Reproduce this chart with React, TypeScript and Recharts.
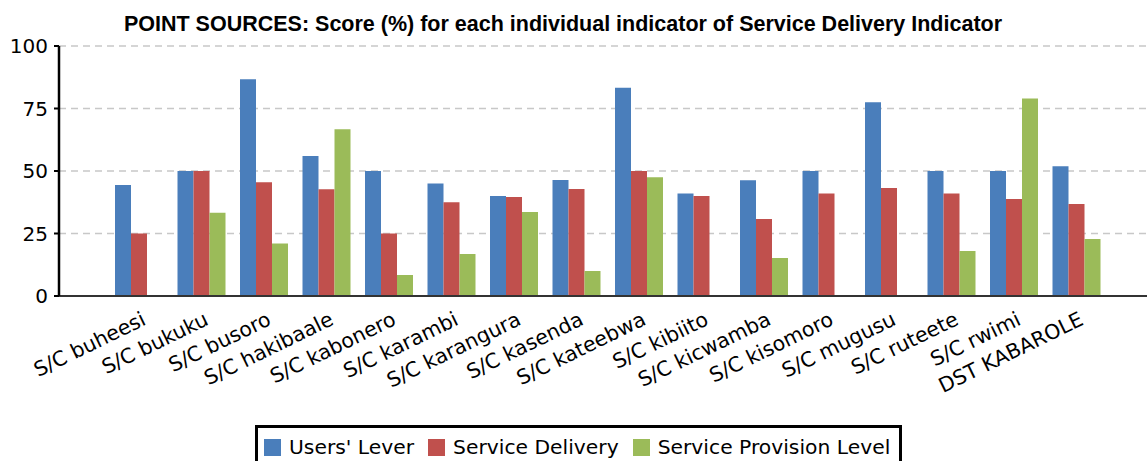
import React from 'react';
import { BarChart, Bar, XAxis, YAxis, CartesianGrid } from 'recharts';

const places = [
    'S/C buheesi', 'S/C bukuku', 'S/C busoro', 'S/C hakibaale', 'S/C kabonero', 'S/C karambi',
    'S/C karangura', 'S/C kasenda', 'S/C kateebwa', 'S/C kibiito', 'S/C kicwamba', 'S/C kisomoro',
    'S/C mugusu', 'S/C ruteete', 'S/C rwimi', 'DST KABAROLE'
];
const usersLever = [44.4, 50, 86.7, 56, 50, 45, 40, 46.4, 83.3, 41, 46.3, 50, 77.5, 50, 50, 51.9];
const serviceDelivery = [25, 50, 45.5, 42.7, 25, 37.5, 39.6, 42.8, 50, 40, 30.8, 41, 43.2, 41, 38.8, 36.8];
const provisionLevel = [0, 33.3, 21, 66.7, 8.4, 16.8, 33.6, 10, 47.5, 0, 15.2, 0, 0, 18, 79, 22.8];
const yTicks = [0, 25, 50, 75, 100];

const series = [
    { key: 'users', name: "Users' Lever", color: '#4a7ebb' },
    { key: 'delivery', name: 'Service Delivery', color: '#c0504d' },
    { key: 'provision', name: 'Service Provision Level', color: '#9bbb59' },
];

const data = places.map((name, i) => ({
    name,
    users: usersLever[i],
    delivery: serviceDelivery[i],
    provision: provisionLevel[i],
}));

const FONT = '"DejaVu Sans", sans-serif';

const AngledTick = (props: any) => {
    const { x, y, payload } = props;
    return (
        <g transform={`translate(${x + 8},${y + 20})`}>
            <text x={0} y={0} textAnchor="end" fontSize={20.5} fontFamily={FONT} fill="#000" transform="rotate(-26)">
                {payload.value}
            </text>
        </g>
    );
};

export default function App() {
    return (
        <div style={{ position: 'absolute', left: 0, top: 0, width: 1147, height: 461, overflow: 'hidden', background: '#fff' }}>
            <div style={{
                position: 'absolute', top: 12, left: 0, width: 1126, textAlign: 'center', whiteSpace: 'nowrap',
                fontFamily: '"Liberation Sans", Arial, sans-serif', fontWeight: 'bold', fontSize: 21.5, color: '#000'
            }}>
                POINT SOURCES: Score (%) for each individual indicator of Service Delivery Indicator
            </div>

            <BarChart
                width={1147}
                height={461}
                data={data}
                margin={{ top: 46, right: 0, bottom: 0, left: 0 }}
                barCategoryGap={7}
                barGap={0}
            >
                <CartesianGrid vertical={false} stroke="#c8c8c8" strokeDasharray="7 5" strokeWidth={1.5} />
                <XAxis
                    dataKey="name"
                    interval={0}
                    height={165}
                    padding={{ left: 49, right: 39 }}
                    tick={<AngledTick />}
                    tickLine={false}
                    axisLine={{ stroke: '#333', strokeWidth: 2 }}
                />
                <YAxis
                    domain={[0, 100]}
                    ticks={yTicks}
                    width={59}
                    tickSize={5}
                    tickMargin={6}
                    axisLine={{ stroke: '#000', strokeWidth: 2.5 }}
                    tickLine={{ stroke: '#000', strokeWidth: 2 }}
                    tick={{ fontSize: 20, fontFamily: FONT, fill: '#000' }}
                />
                {series.map(s => (
                    <Bar key={s.key} dataKey={s.key} name={s.name} fill={s.color} isAnimationActive={false} />
                ))}
            </BarChart>

            {/* legend box, cut off by the bottom edge like in the original */}
            <div style={{
                position: 'absolute', left: 255, top: 425, width: 647, height: 42,
                border: '3px solid #000', background: '#fff', display: 'flex', alignItems: 'center',
                boxSizing: 'border-box', paddingLeft: 6, paddingTop: 2, fontFamily: FONT, fontSize: 20.3
            }}>
                {series.map((s, i) => (
                    <div key={s.key} style={{ display: 'flex', alignItems: 'center', marginLeft: i === 0 ? 0 : 14 }}>
                        <span style={{ display: 'inline-block', width: 17, height: 17, background: s.color, marginRight: 8 }} />
                        <span>{s.name}</span>
                    </div>
                ))}
            </div>
        </div>
    );
}
